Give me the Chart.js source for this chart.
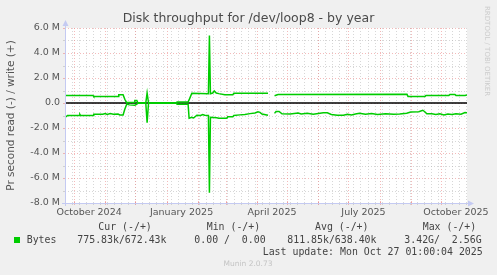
<!DOCTYPE html>
<html>
<head>
<meta charset="utf-8">
<title>Disk throughput for /dev/loop8 - by year</title>
<script src="https://cdn.jsdelivr.net/npm/chart.js@4.4.1/dist/chart.umd.min.js"></script>
<style>
html, body { margin: 0; padding: 0; background: #f0f0f0; }
canvas { display: block; }
</style>
</head>
<body>
<canvas id="chart" width="497" height="275"></canvas>
<script>
// 横轴：自 2024-10-01 起的天数；纵轴单位：M（字节/秒）
const writeDays = [-9, 18.9, 19.6, 43.8, 44.5, 48.8, 50.5, 52.2, 60, 60.5, 62.5, 63.4, 71.4, 72.7, 74.1,
    102, 102.5, 113.5, 115, 117.2, 133.7, 134.7, 135.7, 138, 139.5, 141.5, 144, 150, 158, 159, 193,
    196, 199.5, 203, 331.3, 332.3, 349.2, 350.2, 373, 374, 379, 380, 389, 391];
const writeValues = [0.60, 0.60, 0.52, 0.52, 0.66, 0.66, 0.30, 0.05, 0.05, 0.20, 0.20, 0.02, 0.02, 0.80, 0.02,
    0.02, 0.08, 0.08, 0.35, 0.78, 0.74, 5.40, 0.74, 0.80, 0.96, 0.80, 0.75, 0.66, 0.66, 0.78, 0.78,
    null, 0.58, 0.68, 0.69, 0.53, 0.53, 0.61, 0.61, 0.68, 0.68, 0.61, 0.61, 0.65];

const readDays = [-9, -7.6, -6.5, 5.2, 5.8, 6.4, 18.9, 19.6, 28.6, 31, 33, 36, 39, 43.8, 45.5, 48.8, 50.5,
    52.5, 55, 60.5, 62.5, 63.4, 71.4, 72.7, 74.1, 102, 102.5, 113.5, 114.5, 117.2, 119, 122.2, 126,
    128, 130, 133.7, 134.7, 135.7, 142, 144, 152, 153, 158, 159, 165, 170, 175, 180, 183, 185, 187,
    193, 196, 199.5, 201, 204, 206.9, 215, 223, 226, 232, 238, 248, 252, 256, 262, 268, 272, 276,
    280, 284, 290, 296, 302, 310, 318, 324, 331, 335, 343, 347, 349, 351, 356, 360, 364, 368, 372,
    376, 380, 385, 389, 391];
const readValues = [-1.08, -1.08, -1.00, -1.00, -0.92, -1.00, -1.00, -0.90, -0.90, -0.85, -0.92, -0.85,
    -0.90, -0.88, -0.95, -0.95, -0.50, -0.08, -0.15, -0.18, -0.10, -0.02, -0.02, -1.58, -0.02, -0.02,
    -0.10, -0.10, -1.22, -1.15, -1.20, -0.98, -1.00, -0.92, -0.98, -1.00, -7.18, -1.15, -1.18, -1.22,
    -1.22, -1.10, -1.10, -1.00, -0.95, -0.92, -0.85, -0.80, -0.70, -0.75, -0.88, -0.98, null, -0.83,
    -0.67, -0.67, -0.86, -0.88, -0.80, -0.88, -0.82, -0.90, -0.78, -0.78, -0.92, -0.98, -0.98, -0.90,
    -0.95, -0.88, -0.82, -0.90, -0.85, -0.92, -0.86, -0.90, -0.88, -0.82, -0.72, -0.70, -0.58, -0.70,
    -0.86, -0.86, -0.92, -0.86, -0.95, -0.88, -0.92, -0.86, -0.90, -0.76, -0.78];

// 刻度
const tickDays = [15, 107, 197, 288, 380];
const tickLabels = ['October 2024', 'January 2025', 'April 2025', 'July 2025', 'October 2025'];
const monthDays = [0, 31, 61, 92, 123, 151, 182, 212, 243, 273, 304, 335, 365];
const firstWeekDay = -9;

// 图例文字
const legendHeaders = ['Cur (-/+)', 'Min (-/+)', 'Avg (-/+)', 'Max (-/+)'];
const legendValues = ['775.83k/672.43k', '0.00 /  0.00', '811.85k/638.40k', '3.42G/  2.56G'];

const GREEN = '#00cc00';
const MINOR = 'rgba(175, 175, 175, 0.5)';
const MAJOR = 'rgba(235, 130, 130, 0.55)';
const AXIS = '#c4caf2';

function toPoints(days, values) {
    return days.map((d, i) => ({ x: d, y: values[i] }));
}

function line(ctx, x1, y1, x2, y2) {
    ctx.beginPath();
    ctx.moveTo(x1, y1);
    ctx.lineTo(x2, y2);
    ctx.stroke();
}

// 背景、网格、坐标轴和文字
const muninPlugin = {
    id: 'munin',
    beforeDraw(chart) {
        const { ctx, chartArea: a } = chart;
        ctx.save();
        ctx.fillStyle = '#f0f0f0';
        ctx.fillRect(0, 0, chart.width, chart.height);
        ctx.fillStyle = '#ffffff';
        ctx.fillRect(a.left, a.top, a.right - a.left, a.bottom - a.top);
        ctx.restore();
    },
    beforeDatasetsDraw(chart) {
        const { ctx, chartArea: a, scales: { x, y } } = chart;
        ctx.save();
        ctx.lineWidth = 1;
        ctx.setLineDash([1, 2]);
        // 水平网格
        for (let v = y.min; v <= y.max; v += 1) {
            const py = Math.round(y.getPixelForValue(v)) + 0.5;
            ctx.strokeStyle = v % 2 === 0 ? MAJOR : MINOR;
            line(ctx, a.left, py, a.right, py);
        }
        // 每周
        ctx.strokeStyle = MINOR;
        for (let d = firstWeekDay; d <= x.max; d += 7) {
            const px = Math.round(x.getPixelForValue(d)) + 0.5;
            if (px <= a.left + 1) continue;
            line(ctx, px, a.top, px, a.bottom);
        }
        // 每月
        ctx.strokeStyle = MAJOR;
        monthDays.forEach(d => {
            const px = Math.round(x.getPixelForValue(d)) + 0.5;
            line(ctx, px, a.top, px, a.bottom);
        });
        ctx.setLineDash([]);
        // 零线
        const zy = y.getPixelForValue(0);
        ctx.strokeStyle = '#000000';
        ctx.lineWidth = 1.6;
        line(ctx, a.left, zy, a.right, zy);
        ctx.restore();
    },
    afterDatasetsDraw(chart) {
        const { ctx, chartArea: a, scales: { x, y } } = chart;
        ctx.save();
        ctx.lineWidth = 1;
        // 刻度线
        for (let v = y.min; v <= y.max; v += 1) {
            const py = Math.round(y.getPixelForValue(v)) + 0.5;
            ctx.strokeStyle = v % 2 === 0 ? MAJOR : MINOR;
            line(ctx, a.left - 2, py, a.left, py);
        }
        ctx.strokeStyle = MINOR;
        for (let d = firstWeekDay; d <= x.max; d += 7) {
            const px = Math.round(x.getPixelForValue(d)) + 0.5;
            line(ctx, px, a.bottom, px, a.bottom + 2);
        }
        ctx.strokeStyle = MAJOR;
        monthDays.forEach(d => {
            const px = Math.round(x.getPixelForValue(d)) + 0.5;
            line(ctx, px, a.bottom - 2, px, a.bottom + 2);
        });
        // 坐标轴和箭头
        const lx = Math.round(a.left) + 0.5;
        const by = Math.round(a.bottom) + 0.5;
        ctx.strokeStyle = AXIS;
        ctx.fillStyle = AXIS;
        line(ctx, lx, a.bottom + 3, lx, a.top - 4);
        line(ctx, a.left - 3, by, a.right + 3, by);
        ctx.beginPath();
        ctx.moveTo(lx - 3, a.top - 2);
        ctx.lineTo(lx + 3, a.top - 2);
        ctx.lineTo(lx, a.top - 8);
        ctx.closePath();
        ctx.fill();
        ctx.beginPath();
        ctx.moveTo(a.right + 1, by - 3);
        ctx.lineTo(a.right + 1, by + 3);
        ctx.lineTo(a.right + 7, by);
        ctx.closePath();
        ctx.fill();
        ctx.restore();
    },
    afterDraw(chart) {
        const { ctx } = chart;
        ctx.save();
        // 标题
        ctx.fillStyle = '#4a4a4a';
        ctx.font = '12.5px "DejaVu Sans"';
        ctx.textAlign = 'center';
        ctx.textBaseline = 'middle';
        ctx.fillText('Disk throughput for /dev/loop8 - by year', 248.5, 19);

        // 图例
        ctx.font = '9.9px "DejaVu Sans Mono"';
        ctx.textAlign = 'left';
        ctx.fillStyle = '#444';
        const headerX = [98.3, 206.7, 315, 422.7];
        legendHeaders.forEach((t, i) => ctx.fillText(t, headerX[i], 227.5));
        ctx.fillStyle = GREEN;
        ctx.fillRect(14, 237, 6, 6);
        ctx.fillStyle = '#444';
        ctx.fillText('Bytes', 26.7, 240);
        const valueX = [77.3, 194.3, 287.3, 404.3];
        legendValues.forEach((t, i) => ctx.fillText(t, valueX[i], 240));
        ctx.textAlign = 'right';
        ctx.fillText('Last update: Mon Oct 27 01:00:04 2025', 482.7, 252);

        ctx.textAlign = 'center';
        ctx.fillStyle = '#c4c4c4';
        ctx.font = '7.5px "DejaVu Sans"';
        ctx.fillText('Munin 2.0.73', 248, 264.5);

        // 右侧竖排文字
        ctx.translate(487, 6);
        ctx.rotate(Math.PI / 2);
        ctx.textAlign = 'left';
        ctx.fillStyle = '#cccccc';
        ctx.font = '7px "DejaVu Sans"';
        ctx.fillText('RRDTOOL / TOBI OETIKER', 0, 0);
        ctx.restore();
    }
};

Chart.defaults.font.family = '"DejaVu Sans", sans-serif';

const ctx = document.getElementById('chart').getContext('2d');
const chart = new Chart(ctx, {
    type: 'line',
    data: {
        datasets: [{
            label: 'write',
            data: toPoints(writeDays, writeValues),
            borderColor: GREEN,
            borderWidth: 1.5,
            pointRadius: 0,
            tension: 0,
            spanGaps: false
        }, {
            label: 'read',
            data: toPoints(readDays, readValues),
            borderColor: GREEN,
            borderWidth: 1.5,
            pointRadius: 0,
            tension: 0,
            spanGaps: false
        }]
    },
    options: {
        responsive: false,
        devicePixelRatio: 1,
        animation: false,
        layout: {
            padding: { top: 28, right: 30, bottom: 0, left: 0 }
        },
        plugins: {
            legend: { display: false },
            tooltip: { enabled: false },
            title: { display: false }
        },
        scales: {
            x: {
                type: 'linear',
                min: -9,
                max: 391,
                grid: { display: false, drawTicks: false },
                border: { display: false },
                afterBuildTicks: scale => {
                    scale.ticks = tickDays.map(v => ({ value: v }));
                },
                afterFit: scale => {
                    scale.height = 72;
                },
                ticks: {
                    autoSkip: false,
                    maxRotation: 0,
                    padding: 4,
                    color: '#555',
                    font: { size: 9.5 },
                    callback: (value, index) => tickLabels[index]
                }
            },
            y: {
                min: -8,
                max: 6,
                grid: { display: false, drawTicks: false },
                border: { display: false },
                afterFit: scale => {
                    scale.width = 65;
                },
                title: {
                    display: true,
                    text: 'Pr second read (-) / write (+)',
                    color: '#555',
                    font: { size: 10.5 },
                    padding: { top: 5, bottom: 0 }
                },
                ticks: {
                    stepSize: 2,
                    padding: 5,
                    color: '#555',
                    font: { size: 9.5 },
                    callback: v => (v === 0 ? '0.0' : v.toFixed(1) + ' M')
                }
            }
        }
    },
    plugins: [muninPlugin]
});
</script>
</body>
</html>
